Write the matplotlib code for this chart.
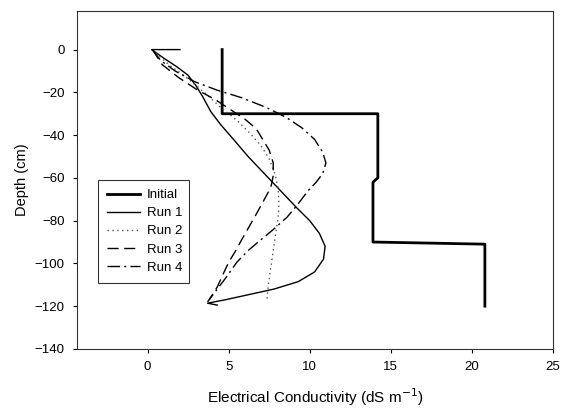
import numpy as np
import matplotlib
matplotlib.use('Agg')
import matplotlib.pyplot as plt

plt.rcParams['font.family'] = ['Liberation Sans', 'DejaVu Sans']

# Initial EC profile (step)
init_ec = [4.6, 4.6, 14.2, 14.2, 13.9, 13.9, 20.8, 20.8]
init_depth = [0, -30, -30, -60, -62, -90, -91, -120]

run1_ec = [2.0, 0.25, 1.0, 1.8, 2.5, 3.0, 3.4, 3.9, 4.5, 5.3, 6.2, 7.2, 8.2,
           9.2, 10.0, 10.6, 10.95, 10.85, 10.3, 9.3, 7.8, 6.0, 4.8, 3.7, 4.3]
run1_depth = [0, 0, -4, -8, -12, -17, -22, -29, -35, -42, -50, -58, -66,
              -74, -80, -86, -92, -98, -104, -108.5, -112, -115, -117, -118.6,
              -119.5]

run2_ec = [0.3, 1.3, 2.4, 3.5, 4.5, 5.5, 6.3, 7.0, 7.5, 7.85, 8.05, 8.1,
           8.05, 7.9, 7.75, 7.6, 7.45, 7.35]
run2_depth = [0, -7, -13, -20, -27, -33, -39, -45, -51, -58, -65, -72, -79,
              -86, -94, -102, -110, -118]

run3_ec = [0.3, 0.9, 1.9, 3.1, 4.2, 5.1, 6.0, 6.7, 7.1, 7.5, 7.75, 7.75, 7.6,
           7.1, 6.7, 6.25, 5.8, 5.4, 5.0, 4.6, 4.3, 3.8]
run3_depth = [0, -7, -13, -19, -23.5, -28, -32.5, -37, -42, -47, -53, -59,
              -64.5, -71.5, -77, -83, -89, -94.5, -99.5, -106, -111, -117]

run4_ec = [0.3, 0.8, 1.7, 2.9, 4.3, 5.8, 7.3, 8.5, 9.5, 10.3, 10.8, 11.0,
           10.8, 10.4, 9.9, 9.2, 8.6, 7.7, 6.9, 6.2, 5.5, 4.9, 4.4, 3.7]
run4_depth = [0, -5, -10, -15, -19, -22.5, -27, -31.5, -36.5, -42, -48, -53,
              -58, -62, -66, -73, -78.4, -84.5, -89.5, -94, -99.5, -106,
              -111, -118]

x_ticks = [0, 5, 10, 15, 20, 25]
y_ticks = [0, -20, -40, -60, -80, -100, -120, -140]

fig = plt.figure(figsize=(5.64, 4.11), dpi=100)
ax = fig.add_axes([0.1365, 0.151, 0.844, 0.822])

ax.plot(init_ec, init_depth, color='black', linewidth=2.0, label='Initial')
ax.plot(run1_ec, run1_depth, color='black', linewidth=1.0, label='Run 1')
ax.plot(run2_ec, run2_depth, color='#555555', linewidth=1.0,
        linestyle=(0, (1, 2.5)), label='Run 2')
ax.plot(run3_ec, run3_depth, color='black', linewidth=1.0,
        linestyle=(0, (8, 4)), label='Run 3')
ax.plot(run4_ec, run4_depth, color='black', linewidth=1.0,
        linestyle=(0, (9, 3, 1.5, 3)), label='Run 4')

ax.set_xlim(-4.35, 25)
ax.set_ylim(-140, 18)
ax.set_xticks(x_ticks)
ax.set_yticks(y_ticks)
ax.tick_params(labelsize=9.5, length=3, width=0.8, direction='out', pad=6)
for sp in ax.spines.values():
    sp.set_linewidth(0.8)
    sp.set_color('#333333')

ax.set_xlabel('Electrical Conductivity (dS m$^{-1}$)', fontsize=11, labelpad=9)
ax.set_ylabel('Depth (cm)', fontsize=10.5, labelpad=4)

leg = ax.legend(loc='lower left', bbox_to_anchor=(0.044, 0.195, 0.191, 0.311),
                mode='expand', borderaxespad=0, fontsize=9.5, frameon=True,
                fancybox=False, handlelength=2.5, borderpad=0.7,
                labelspacing=0.45, handletextpad=0.5)
leg.get_frame().set_edgecolor('black')
leg.get_frame().set_linewidth(0.8)

fig.savefig('out.png', dpi=100)
